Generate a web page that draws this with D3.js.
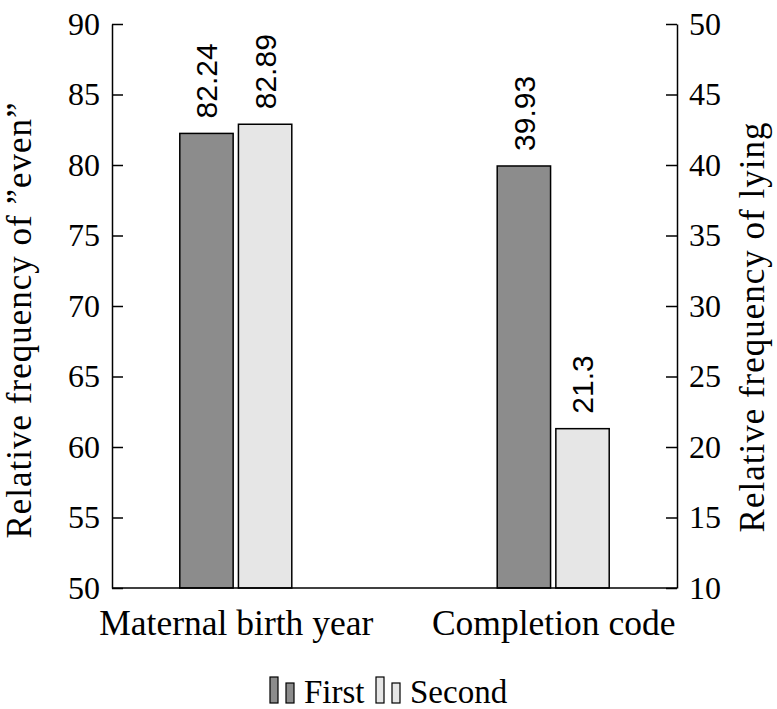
<!DOCTYPE html>
<html><head><meta charset="utf-8">
<script src="https://cdn.jsdelivr.net/npm/d3@7"></script>
<style>body{margin:0;background:#fff}svg{display:block}
.serif{font-family:"Liberation Serif","Times New Roman","DejaVu Serif",serif}
.sans{font-family:"Liberation Sans",Arial,sans-serif}
</style>
</head><body>
<script>
const categories = ["Maternal birth year", "Completion code"];
const seriesNames = ["First", "Second"];
const firstValues = [82.24, 39.93];
const secondValues = [82.89, 21.3];
const valueLabels = [["82.24", "82.89"], ["39.93", "21.3"]];
const barAxis = ["left", "right"];
const leftTicks = [50, 55, 60, 65, 70, 75, 80, 85, 90];
const rightTicks = [10, 15, 20, 25, 30, 35, 40, 45, 50];
const seriesColors = ["#8c8c8c", "#e6e6e6"];

const W = 777, H = 709;
const L = 112, R = 677, T = 24, B = 588;

const svg = d3.select("body").append("svg").attr("width", W).attr("height", H);

const yL = d3.scaleLinear().domain([50, 90]).range([B, T]);
const yR = d3.scaleLinear().domain([10, 50]).range([B, T]);
const x0 = d3.scalePoint().domain(categories).range([L, R]).padding(0.39);
const x1 = d3.scaleBand().domain(seriesNames).range([-56, 56]).paddingInner(0.09);

const data = categories.map((c, i) => ({
  cat: c, axis: barAxis[i],
  vals: [firstValues[i], secondValues[i]],
  labels: valueLabels[i]
}));

data.forEach(d => {
  const y = d.axis === "left" ? yL : yR;
  seriesNames.forEach((s, j) => {
    const bx = x0(d.cat) + x1(s);
    svg.append("rect")
      .attr("x", bx).attr("y", y(d.vals[j]))
      .attr("width", x1.bandwidth()).attr("height", B - y(d.vals[j]))
      .attr("fill", seriesColors[j]).attr("stroke", "#000").attr("stroke-width", 1.5);
    const cx = bx + x1.bandwidth() / 2, cy = y(d.vals[j]) - 15;
    svg.append("text").attr("class", "sans")
      .attr("transform", `translate(${cx},${cy}) rotate(-90)`)
      .attr("dy", "0.36em")
      .style("font-size", "30px")
      .text(d.labels[j]);
  });
});

const axL = d3.axisLeft(yL).tickValues(leftTicks).tickSizeInner(-11).tickSizeOuter(0).tickPadding(12);
const axR = d3.axisRight(yR).tickValues(rightTicks).tickSizeInner(-11).tickSizeOuter(0).tickPadding(12);
const gL = svg.append("g").attr("transform", `translate(${L},0)`).call(axL);
const gR = svg.append("g").attr("transform", `translate(${R},0)`).call(axR);
[gL, gR].forEach(g => {
  g.attr("font-family", null).attr("font-size", null);
  g.selectAll("path,line").attr("stroke", "#000").attr("stroke-width", 1.5);
  g.selectAll("text").attr("class", "serif").style("font-size", "32px").attr("fill", "#000");
});
const axB = d3.axisBottom(x0).tickSize(0).tickPadding(22);
const gB = svg.append("g").attr("transform", `translate(0,${B})`).call(axB);
gB.attr("font-family", null).attr("font-size", null);
gB.select(".domain").attr("d", `M${L},0H${R}`).attr("stroke", "#000").attr("stroke-width", 1.5);
gB.selectAll("text").attr("class", "serif").style("font-size", "35.5px").attr("fill", "#000");

svg.append("text").attr("class", "serif")
  .attr("transform", "translate(31,320) rotate(-90)")
  .attr("text-anchor", "middle")
  .style("font-size", "35px").style("letter-spacing", "1px")
  .text("Relative frequency of \u201Deven\u201D");
svg.append("text").attr("class", "serif")
  .attr("transform", "translate(764,327) rotate(-90)")
  .attr("text-anchor", "middle")
  .style("font-size", "35px").style("letter-spacing", "1px")
  .text("Relative frequency of lying");

const legend = svg.append("g").attr("transform", "translate(270,703)");
const legendX = [0, 106];
seriesNames.forEach((s, j) => {
  const g = legend.append("g").attr("transform", `translate(${legendX[j]},0)`);
  g.append("rect").attr("x", 0).attr("y", -26).attr("width", 8).attr("height", 26)
    .attr("fill", seriesColors[j]).attr("stroke", "#000").attr("stroke-width", 1.2);
  g.append("rect").attr("x", 16).attr("y", -20).attr("width", 8).attr("height", 20)
    .attr("fill", seriesColors[j]).attr("stroke", "#000").attr("stroke-width", 1.2);
  g.append("text").attr("class", "serif").attr("x", 34).attr("y", 0)
    .style("font-size", "33px").text(s);
});
</script>
</body></html>
